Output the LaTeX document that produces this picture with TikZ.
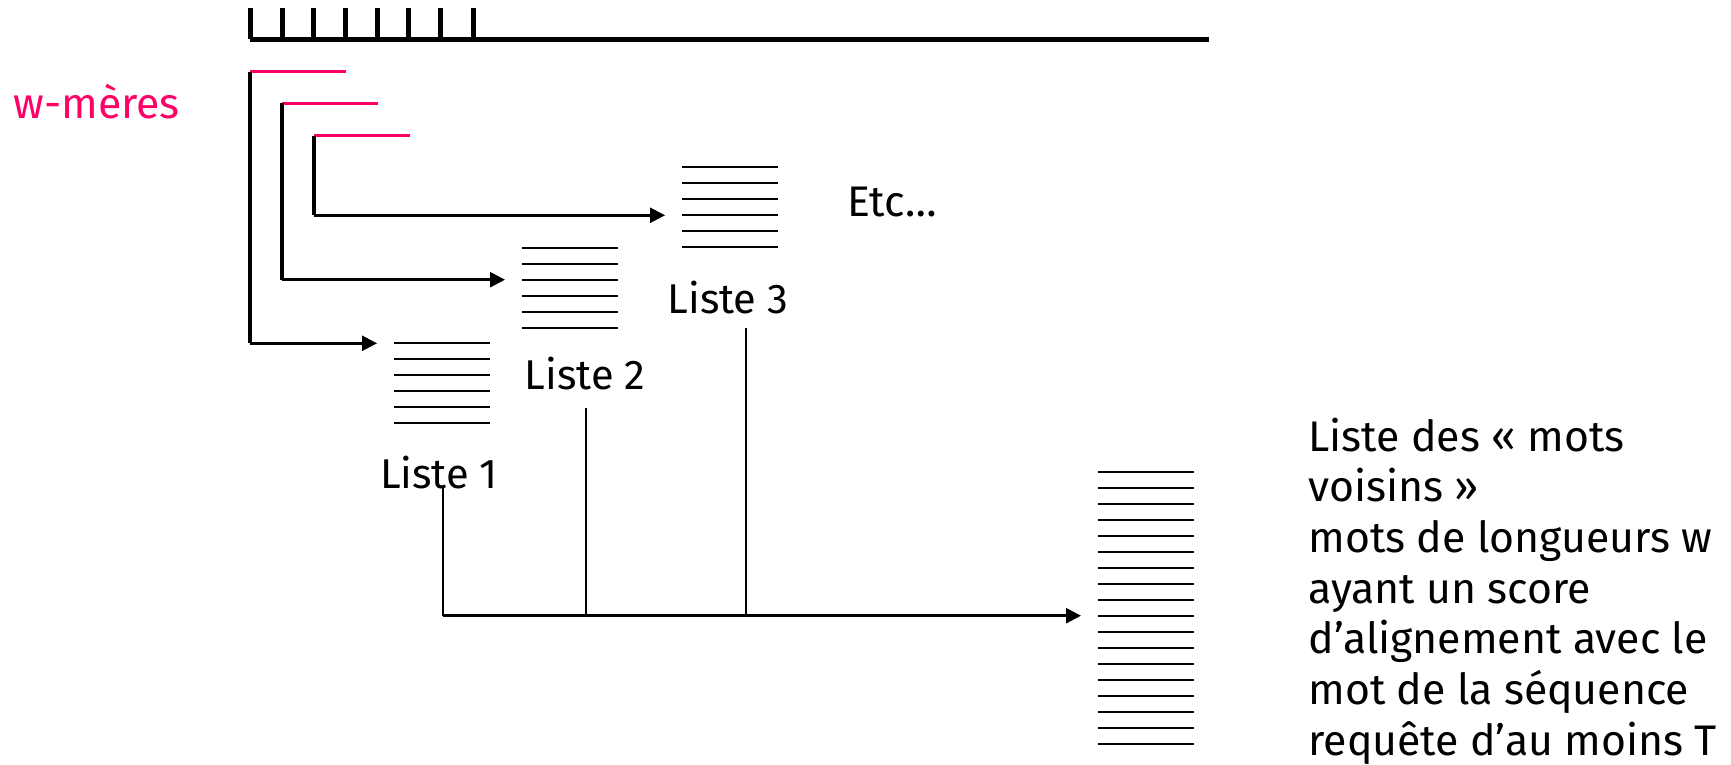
\documentclass[tikz,border=0pt]{standalone}
\usepackage{fontspec}
\setmainfont{Fira Sans}
\usetikzlibrary{arrows.meta,calc}
\definecolor{wpink}{RGB}{255,0,102}
\begin{document}
\begin{tikzpicture}[x=0.5pt,y=-0.5pt,
  ruler/.style={line width=2.5pt},
  bracket/.style={line width=2pt},
  conn/.style={line width=1.3pt,shorten >=8.5pt,-{Triangle[length=7.5pt,width=7.5pt]}},
  plain/.style={line width=1.3pt},
  pinkline/.style={wpink,line width=1.35pt},
  lstline/.style={line width=1.1pt},
  lbl/.style={font=\fontsize{20.8}{25.5}\selectfont, inner sep=0pt, anchor=base},
  desc/.style={font=\fontsize{21.4}{25.5}\selectfont, inner sep=0pt, anchor=base west},
]
\useasboundingbox (0,0) rectangle (1731,765);

% ruler
\draw[ruler] (250,39.5) -- (1209,39.5);
\foreach \x in {250,282,313,345,377,408,440,473}
  \draw[ruler] (\x,8) -- (\x,39.5);

% lists
\coordinate (list1) at (394,343.3);
\coordinate (list2) at (522,247.7);
\coordinate (list3) at (682,167.3);
\coordinate (list4) at (1098,471.7);
\foreach \l in {list1,list2,list3}
  \foreach \i in {0,...,5}
    \draw[lstline] ($(\l)+(0,\i*16)$) -- ++(96,0);
\foreach \i in {0,...,17}
  \draw[lstline] ($(list4)+(0,\i*16)$) -- ++(96,0);

% w-mers brackets
\coordinate (w1) at (250,71.7);
\coordinate (w2) at (282,103.5);
\coordinate (w3) at (314,135.7);
\coordinate (b1) at (250,343.3);
\coordinate (b2) at (282,279.7);
\coordinate (b3) at (314,215.3);
\coordinate (in1) at (394,343.3);
\coordinate (in2) at (522,279.7);
\coordinate (in3) at (682,215.3);
\foreach \k in {1,2,3} {
  \draw[pinkline] (w\k) -- ++(96,0);
  \draw[bracket] (w\k) -- (b\k);
  \draw[conn] (b\k) -- (in\k);
}

% labels
\node[desc,wpink] (wm) at (13,119) {w-mères};
\node[desc] (etc) at (847,216) {Etc…};
\node[lbl] (lab1) at (439,488) {Liste 1};
\node[lbl] (lab2) at (585,389) {Liste 2};
\node[lbl] (lab3) at (728,313) {Liste 3};

% merge
\coordinate (c1) at (443,488);
\coordinate (c2) at (586,408);
\coordinate (c3) at (746,328);
\coordinate (j1) at (443,615.7);
\coordinate (j2) at (586,615.7);
\coordinate (j3) at (746,615.7);
\coordinate (in4) at (1098,615.7);
\draw[plain] (c1) -- (j1);
\draw[plain] (c2) -- (j2);
\draw[plain] (c3) -- (j3);
\draw[conn] (j1) -- (in4);

% description
\foreach \t [count=\n from 0] in {Liste des « mots,voisins »,mots de longueurs w,ayant un score,d’alignement avec le,mot de la séquence,requête d’au moins T}
  \node[desc] (r\n) at (1308,451+\n*50.7) {\t};
\end{tikzpicture}
\end{document}
